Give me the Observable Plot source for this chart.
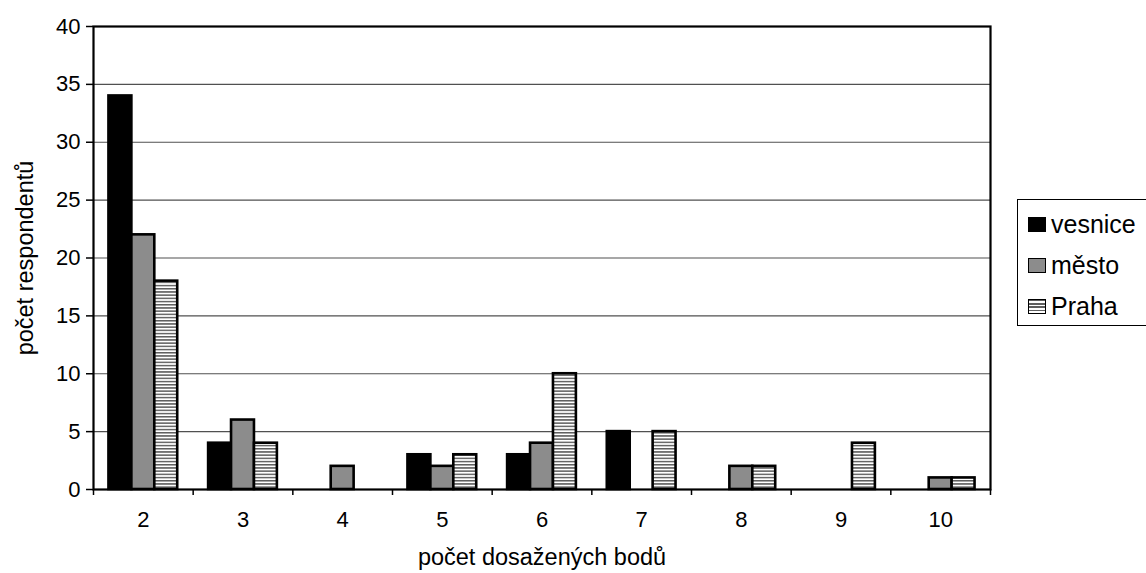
<!DOCTYPE html>
<html>
<head>
<meta charset="utf-8">
<script src="https://cdn.jsdelivr.net/npm/d3@7"></script>
<script src="https://cdn.jsdelivr.net/npm/@observablehq/plot@0.6"></script>
<style>
  html, body { margin: 0; padding: 0; background: #fff; overflow: hidden; }
  #wrap { position: relative; width: 1146px; height: 573px; font-family: "Liberation Sans", Arial, sans-serif; }
  #legend {
    position: absolute; left: 1017px; top: 199px; width: 170px; height: 127px;
    border: 1.5px solid #000; box-sizing: border-box; background: #fff;
    padding-top: 4px;
  }
  .item { display: flex; align-items: center; height: 41px; font-size: 25px; color: #000; }
  .swatch { width: 18px; height: 15px; border: 1.5px solid #000; box-sizing: border-box; margin-left: 10px; margin-right: 5px; }
</style>
</head>
<body>
<div id="wrap"><div id="legend"></div></div>
<script>
// Points reached (categories) and number of respondents per settlement type
const points  = [2, 3, 4, 5, 6, 7, 8, 9, 10];
const vesnice = [34, 4, 0, 3, 3, 5, 0, 0, 0];
const mesto   = [22, 6, 2, 2, 4, 0, 2, 0, 1];
const praha   = [18, 4, 0, 3, 10, 5, 2, 4, 1];

const seriesNames = ["vesnice", "město", "Praha"];
const seriesValues = [vesnice, mesto, praha];
const yTicks = [0, 5, 10, 15, 20, 25, 30, 35, 40];

// Presentation
const fills = ["#000", "#8c8c8c", "url(#praha-stripes)"];
const barWidth = 0.23;             // in category units
const font = '"Liberation Sans", Arial, sans-serif';

// Long table: one row per (category, series)
const rows = [];
seriesValues.forEach((vals, s) => {
  points.forEach((p, i) => rows.push({ series: seriesNames[s], s, points: p, value: vals[i] }));
});

// Category boundaries for the tick marks under the baseline
const boundaries = [points[0] - 0.5, ...points.map(p => p + 0.5)];

// Striped pattern used for the Praha bars
function stripeDefs() {
  const ns = "http://www.w3.org/2000/svg";
  const defs = document.createElementNS(ns, "defs");
  const pat = document.createElementNS(ns, "pattern");
  pat.setAttribute("id", "praha-stripes");
  pat.setAttribute("patternUnits", "userSpaceOnUse");
  pat.setAttribute("width", "6");
  pat.setAttribute("height", "3.2");
  const bg = document.createElementNS(ns, "rect");
  bg.setAttribute("width", "6"); bg.setAttribute("height", "3.2"); bg.setAttribute("fill", "#fff");
  const line = document.createElementNS(ns, "rect");
  line.setAttribute("y", "0"); line.setAttribute("width", "6"); line.setAttribute("height", "1.5");
  line.setAttribute("fill", "#5e5e5e");
  pat.appendChild(bg); pat.appendChild(line);
  defs.appendChild(pat);
  return defs;
}

const barMarks = seriesNames.map((name, s) =>
  Plot.rect(rows.filter(d => d.s === s && d.value > 0), {
    x1: d => d.points - 1.5 * barWidth + d.s * barWidth,
    x2: d => d.points - 0.5 * barWidth + d.s * barWidth,
    y1: () => 0,
    y2: "value",
    fill: fills[s],
    stroke: "#000",
    strokeWidth: 2.6
  })
);

const chart = Plot.plot({
  width: 1146,
  height: 573,
  marginLeft: 93,
  marginRight: 156,
  marginTop: 26,
  marginBottom: 84,
  style: { fontFamily: font, color: "#000", background: "transparent", overflow: "visible" },
  x: { domain: [points[0] - 0.5, points[points.length - 1] + 0.5] },
  y: { domain: [0, 40] },
  marks: [
    stripeDefs,
    Plot.ruleY(yTicks.filter(t => t > 0 && t < 40), { stroke: "#505050", strokeWidth: 1.2 }),
    ...barMarks,
    Plot.frame({ stroke: "#000", strokeWidth: 2.2 }),
    Plot.axisY(yTicks, { tickSize: 7, tickPadding: 6, fontSize: 22, label: null, strokeWidth: 1.5 }),
    Plot.axisX(points, { tickSize: 0, tickPadding: 22, fontSize: 22, label: null }),
    Plot.axisX(boundaries, { tickSize: 6, tickFormat: () => "", label: null, strokeWidth: 1.5 }),
    Plot.text(["počet dosažených bodů"], { frameAnchor: "bottom", textAnchor: "middle", dy: 75, fontSize: 23.5, fill: "#000" }),
    Plot.text(["počet respondentů"], { frameAnchor: "left", textAnchor: "middle", dx: -68, rotate: -90, fontSize: 23.5, fill: "#000" })
  ]
});

const wrap = document.getElementById("wrap");
wrap.insertBefore(chart, wrap.firstChild);

// Legend
const legend = document.getElementById("legend");
seriesNames.forEach((name, s) => {
  const item = document.createElement("div");
  item.className = "item";
  const sw = document.createElement("span");
  sw.className = "swatch";
  if (s === 2) {
    sw.style.background = "repeating-linear-gradient(to bottom, #5e5e5e 0 1.5px, #fff 1.5px 3.2px)";
  } else {
    sw.style.background = fills[s];
  }
  const label = document.createElement("span");
  label.textContent = name;
  item.appendChild(sw);
  item.appendChild(label);
  legend.appendChild(item);
});
</script>
</body>
</html>
